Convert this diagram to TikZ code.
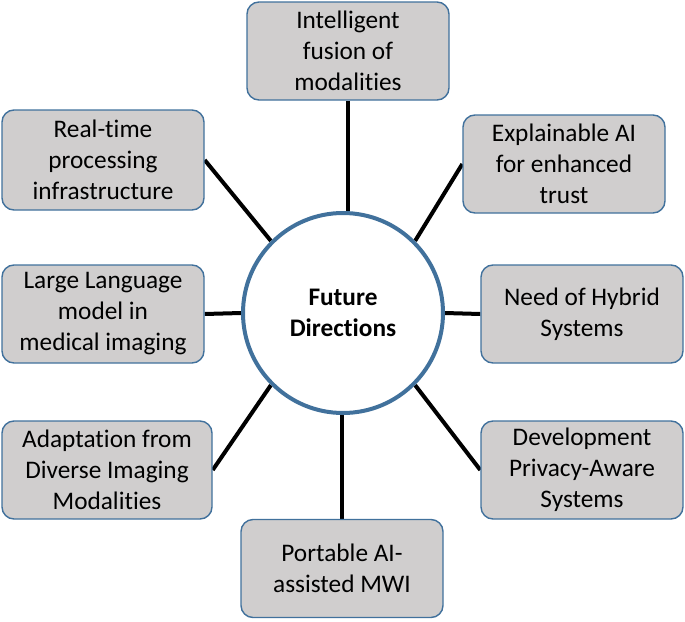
\documentclass[tikz,border=0pt]{standalone}
\usepackage{fontspec}
\setmainfont{Carlito}[Ligatures=NoCommon]
\usetikzlibrary{backgrounds}
\definecolor{boxfill}{HTML}{D0CECE}
\definecolor{boxline}{HTML}{41719C}
\begin{document}
\begin{tikzpicture}[x=1pt,y=1pt,
  topic/.style={draw=boxline, line width=1.4pt, fill=boxfill, rounded corners=12pt,
    minimum width=202pt, minimum height=98pt, inner sep=0pt, align=center,
    font=\fontsize{25.3}{31}\selectfont},
  hub/.style={circle, draw=boxline, line width=4pt, fill=white, minimum size=200pt,
    inner sep=0pt, align=center, font=\bfseries\fontsize{25.3}{31}\selectfont},
  link/.style={line width=4pt, black}]
\useasboundingbox (0,0) rectangle (685,-621);
\node[hub] (c) at (343,-313) {Future\\Directions};
\node[topic] (t) at (348,-51) {Intelligent\\fusion of\\modalities};
\node[topic] (tr) at (564,-164) {Explainable AI\\for enhanced\\trust};
\node[topic, minimum height=100pt] (tl) at (103,-160) {Real-time\\processing\\infrastructure};
\node[topic] (l) at (103,-314) {Large Language\\model in\\medical imaging};
\node[topic] (r) at (582,-314) {Need of Hybrid\\Systems};
\node[topic, minimum width=210pt] (bl) at (107,-470) {Adaptation from\\Diverse Imaging\\Modalities};
\node[topic] (br) at (582,-470) {Development\\Privacy-Aware\\Systems};
\node[topic] (b) at (342,-568.5) {Portable AI-\\assisted MWI};
\begin{scope}[on background layer]
\draw[link] (t.south) -- (t.south |- c.north);
\draw[link] (b.north) -- (b.north |- c.south);
\draw[link] (tr.west) -- (c.45);
\draw[link] (tl.east) -- (c.135);
\draw[link] (bl.east) -- (c.225);
\draw[link] (br.west) -- (c.-45);
\draw[link] (l.east) -- (c.west);
\draw[link] (r.west) -- (c.east);
\end{scope}
\end{tikzpicture}
\end{document}
